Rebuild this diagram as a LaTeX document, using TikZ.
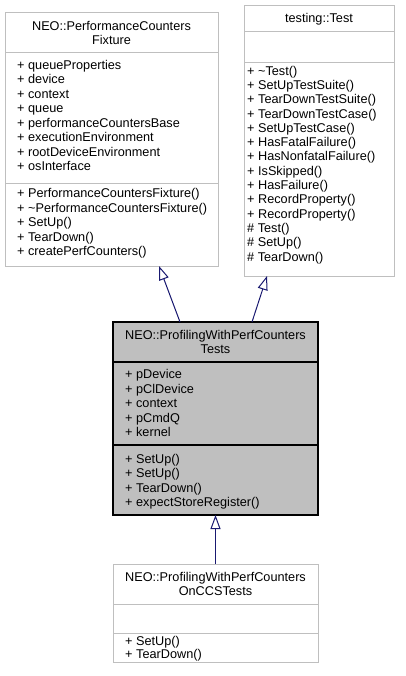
\documentclass[tikz,border=0pt]{standalone}
\usepackage{fontspec}
\setmainfont{Liberation Sans}
\usetikzlibrary{arrows.meta}
\definecolor{boxgray}{HTML}{BFBFBF}
\definecolor{edgeblue}{HTML}{191970}
\begin{document}
\begin{tikzpicture}[x=1pt,y=-1pt,
    font=\fontsize{12.7}{14.5}\selectfont,
    box/.style={draw=boxgray,line width=1pt,fill=white,outer sep=0pt,inner sep=0pt},
    hlbox/.style={draw=black,line width=1.3pt,fill=boxgray,outer sep=0pt,inner sep=0pt},
    member/.style={anchor=base west,inner sep=0pt},
    title/.style={anchor=base,inner sep=0pt},
    inherit/.style={draw=edgeblue,line width=1pt,-{Triangle[open,length=14pt,width=10pt]}}]
          \useasboundingbox (0,0) rectangle (405,676);
          % the two base classes
          \node[box,minimum width=213pt,minimum height=253pt] at (111.5,139.5) (fix) {};
          \draw[boxgray,line width=1pt] ([yshift=-40pt]fix.north west) -- ([yshift=-40pt]fix.north east);
          \draw[boxgray,line width=1pt] ([yshift=-171pt]fix.north west) -- ([yshift=-171pt]fix.north east);
          \node[title] at (111.5,30.5) (fixt1) {NEO::PerformanceCounters};
          \node[title] at (111.5,44.5) (fixt2) {Fixture};
          \node[member] at (17,69.5) (fixa1) {+ queueProperties};
          \node[member] at (17,84) (fixa2) {+ device};
          \node[member] at (17,98.5) (fixa3) {+ context};
          \node[member] at (17,113) (fixa4) {+ queue};
          \node[member] at (17,127.5) (fixa5) {+ performanceCountersBase};
          \node[member] at (17,142) (fixa6) {+ executionEnvironment};
          \node[member] at (17,156.5) (fixa7) {+ rootDeviceEnvironment};
          \node[member] at (17,171) (fixa8) {+ osInterface};
          \node[member] at (17,197.5) (fixm1) {+ PerformanceCountersFixture()};
          \node[member] at (17,212) (fixm2) {+ \char"007EPerformanceCountersFixture()};
          \node[member] at (17,226.5) (fixm3) {+ SetUp()};
          \node[member] at (17,241) (fixm4) {+ TearDown()};
          \node[member] at (17,255.5) (fixm5) {+ createPerfCounters()};

          \node[box,minimum width=150pt,minimum height=270pt] at (319,141) (test) {};
          \draw[boxgray,line width=1pt] ([yshift=-26pt]test.north west) -- ([yshift=-26pt]test.north east);
          \draw[boxgray,line width=1pt] ([yshift=-57pt]test.north west) -- ([yshift=-57pt]test.north east);
          \node[title] at (319,23) (testt1) {testing::Test};
          \node[member] at (247,75.2) (testm1) {+ \char"007ETest()};
          \node[member] at (247,89.5) (testm2) {+ SetUpTestSuite()};
          \node[member] at (247,103.8) (testm3) {+ TearDownTestSuite()};
          \node[member] at (247,118.1) (testm4) {+ TearDownTestCase()};
          \node[member] at (247,132.4) (testm5) {+ SetUpTestCase()};
          \node[member] at (247,146.7) (testm6) {+ HasFatalFailure()};
          \node[member] at (247,161) (testm7) {+ HasNonfatalFailure()};
          \node[member] at (247,175.3) (testm8) {+ IsSkipped()};
          \node[member] at (247,189.6) (testm9) {+ HasFailure()};
          \node[member] at (247,203.9) (testm10) {+ RecordProperty()};
          \node[member] at (247,218.2) (testm11) {+ RecordProperty()};
          \node[member] at (247,232.5) (testm12) {\# Test()};
          \node[member] at (247,246.8) (testm13) {\# SetUp()};
          \node[member] at (247,261.1) (testm14) {\# TearDown()};

          % the class itself
          \node[hlbox,minimum width=205pt,minimum height=193pt] at (215.5,418.5) (prof) {};
          \draw[black,line width=1.3pt] ([yshift=-40pt]prof.north west) -- ([yshift=-40pt]prof.north east);
          \draw[black,line width=1.3pt] ([yshift=-123pt]prof.north west) -- ([yshift=-123pt]prof.north east);
          \node[title] at (215.5,339.5) (proft1) {NEO::ProfilingWithPerfCounters};
          \node[title] at (215.5,353) (proft2) {Tests};
          \node[member] at (125,378.5) (profa1) {+ pDevice};
          \node[member] at (125,393) (profa2) {+ pClDevice};
          \node[member] at (125,407.5) (profa3) {+ context};
          \node[member] at (125,422) (profa4) {+ pCmdQ};
          \node[member] at (125,436.5) (profa5) {+ kernel};
          \node[member] at (125,463) (profm1) {+ SetUp()};
          \node[member] at (125,477.5) (profm2) {+ SetUp()};
          \node[member] at (125,492) (profm3) {+ TearDown()};
          \node[member] at (125,506.5) (profm4) {+ expectStoreRegister()};

          % derived class
          \node[box,minimum width=205pt,minimum height=98pt] at (215.5,613) (ccs) {};
          \draw[boxgray,line width=1pt] ([yshift=-40pt]ccs.north west) -- ([yshift=-40pt]ccs.north east);
          \draw[boxgray,line width=1pt] ([yshift=-69pt]ccs.north west) -- ([yshift=-69pt]ccs.north east);
          \node[title] at (215.5,581.5) (ccst1) {NEO::ProfilingWithPerfCounters};
          \node[title] at (215.5,595.5) (ccst2) {OnCCSTests};
          \node[member] at (125,645) (ccsm1) {+ SetUp()};
          \node[member] at (125,658.5) (ccsm2) {+ TearDown()};

          % inheritance edges
          \coordinate (profup1) at ([xshift=67pt]prof.north west);
          \coordinate (profup2) at ([xshift=-66pt]prof.north east);
          \coordinate (fixdown) at ([xshift=154pt]fix.south west);
          \coordinate (testdown) at ([xshift=23pt]test.south west);
          \path[] (profup1) edge[inherit] (fixdown);
          \path[] (profup2) edge[inherit] (testdown);
          \path[] (ccs.north) edge[inherit] (prof.south);
        \end{tikzpicture}
\end{document}
